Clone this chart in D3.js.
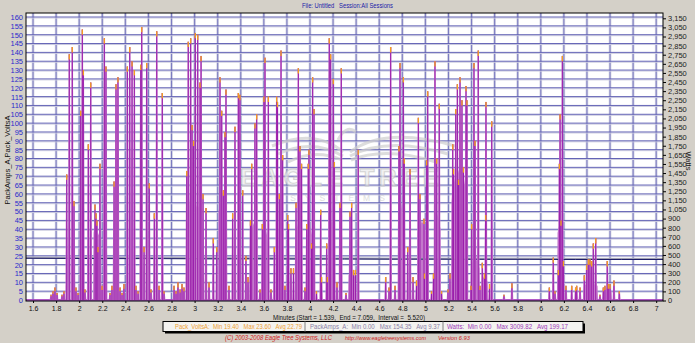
<!DOCTYPE html>
<html><head><meta charset="utf-8">
<script src="https://cdn.jsdelivr.net/npm/d3@7/dist/d3.min.js"></script>
<style>
html,body{margin:0;padding:0;background:#d4d0c8;overflow:hidden;}
svg{display:block;font-family:"Liberation Sans",Arial,sans-serif;}
</style></head><body>
<svg id="chart" width="695" height="343"></svg>
<script>
// ---- recorded data ----
// current spikes: time in minutes, peak PackAmps_A
const spikeMinutes = [
  1.756,1.773,1.790,1.808,1.851,1.868,1.892,1.914,1.940,1.955,1.972,1.990,2.013,2.027,2.036,2.050,
  2.079,2.100,2.137,2.146,2.154,2.163,2.180,2.198,2.218,2.232,2.267,2.284,2.302,2.319,2.336,2.354,
  2.371,2.388,2.417,2.438,2.458,2.478,2.492,2.510,2.533,2.542,2.562,2.585,2.607,2.622,2.651,2.672,
  2.692,2.720,2.735,2.822,2.839,2.856,2.874,2.891,2.908,2.932,2.945,2.966,2.978,2.991,3.006,3.027,
  3.047,3.056,3.073,3.099,3.125,3.162,3.192,3.220,3.235,3.249,3.263,3.272,3.298,3.330,3.350,3.379,
  3.393,3.417,3.445,3.463,3.484,3.495,3.523,3.538,3.567,3.587,3.601,3.610,3.639,3.662,3.691,3.711,
  3.718,3.734,3.749,3.763,3.783,3.807,3.814,3.835,3.857,3.879,3.899,3.913,3.927,3.957,3.972,3.985,
  3.991,4.013,4.023,4.035,4.056,4.093,4.100,4.145,4.150,4.167,4.179,4.202,4.211,4.234,4.260,4.271,
  4.312,4.347,4.361,4.377,4.394,4.418,4.656,4.685,4.699,4.737,4.771,4.780,4.809,4.817,4.847,4.867,
  4.893,4.923,4.939,4.953,4.988,4.992,5.011,5.020,5.053,5.070,5.083,5.098,5.120,5.140,5.196,5.213,
  5.237,5.244,5.263,5.277,5.287,5.300,5.317,5.330,5.352,5.360,5.395,5.401,5.421,5.430,5.458,5.473,
  5.493,5.512,5.523,5.525,5.556,5.575,5.681,5.750,6.074,6.108,6.123,6.152,6.161,6.167,6.175,6.187,
  6.196,6.218,6.268,6.302,6.311,6.340,6.377,6.398,6.412,6.426,6.441,6.455,6.476,6.513,6.542,6.556,
  6.576,6.585,6.600,6.634,6.680
];
const spikeAmps = [
  3,5,7,4,3,5,71,139,143,56,7,4,107,153,130,6,
  88,123,54,49,45,30,77,8,148,132,4,8,67,122,126,7,
  4,9,132,143,135,130,8,5,133,154.35,30,134,66,6,49,152,
  8,117,5,8,5,10,6,9,7,73,146,148,99,90,151,150,
  123,138,60,52,10,35,30,126,107,62,95,119,8,49,98,117,
  116,62,25,13,45,77,100,105,6,43,115,137,115,6,30,115,
  112,60,141,82,8,48,43,18,18,55,131,87,77,7,43,77,
  85,32,126,108,5,51,13,32,13,148,139,125,78,10,55,131,
  4,50,55,17,17,85,13,7,143,8,87,134,126,80,30,74,
  13,11,103,60,46,15,79,118,5,15,135,80,111,5,6,15,
  88,74,108,122,68,126,113,75,121,113,8,43,134,90,141,8,
  21,15,48,112,9,101,3,9.5,7,24,5,17,77,105,45,138,
  22,8,8,7,8,7,14,20,23,23,22,32,35,3,7,8,
  22,9,9,11,5
];
// sustained load between spikes
const loadMinutes = [
  2.120,2.124,2.140,2.160,2.185,2.189, 2.206,2.210,2.225,2.238,2.242,
  2.932,2.936,2.960,2.990,3.020,3.050,3.070,3.075, 3.203,3.207,3.240,3.275,3.281,
  3.480,3.484,3.520,3.545,3.549, 3.593,3.597,3.620,3.642,3.646,
  3.879,3.883,3.910,3.928,3.932, 3.965,3.969,4.000,4.040,4.044,
  4.156,4.160,4.190,4.213,4.217, 4.330,4.334,4.370,4.396,4.399,
  4.763,4.767,4.790,4.820,4.824, 4.927,4.931,4.970,5.000,5.018,5.022,
  5.074,5.078,5.100,5.132,5.136,
  5.222,5.226,5.245,5.265,5.285,5.305,5.325,5.345,5.365,5.369,
  5.395,5.399,5.430,5.470,5.474, 5.490,5.494,5.520,5.540,5.543,
  6.141,6.145,6.170,6.193,6.197, 6.374,6.378,6.420,6.460,6.492,6.496,
  6.539,6.543,6.580,6.613,6.617
];
const loadAmps = [
  0,38,44,36,40,0, 0,55,70,50,0,
  0,40,60,45,55,50,35,0, 0,50,60,45,0,
  0,38,45,35,0, 0,35,40,30,0,
  0,40,45,35,0, 0,35,42,30,0,
  0,40,45,35,0, 0,14,16,12,0,
  0,45,55,40,0, 0,38,45,40,35,0,
  0,45,50,40,0,
  0,55,72,62,74,66,60,70,52,0,
  0,20,25,18,0, 0,12,14,10,0,
  0,38,45,35,0, 0,8,11,9,8,0,
  0,5,7,5,0
];
// pack voltage
const voltMinutes = [1.539,1.9,2.3,2.7,3.1,3.5,3.9,4.3,4.7,5.1,5.5,5.9,6.3,6.7,7.059];
const voltValues  = [23.6,23.5,23.4,23.4,23.3,23.3,23.2,23.2,23.1,23.1,23.0,23.0,22.9,22.9,22.9];

// axes
const minuteTicks = [1.6,1.8,2,2.2,2.4,2.6,2.8,3,3.2,3.4,3.6,3.8,4,4.2,4.4,4.6,4.8,5,5.2,5.4,5.6,5.8,6,6.2,6.4,6.6,6.8,7];
const minuteLabels = ["1.6","1.8","2","2.2","2.4","2.6","2.8","3","3.2","3.4","3.6","3.8","4","4.2","4.4","4.6","4.8","5","5.2","5.4","5.6","5.8","6","6.2","6.4","6.6","6.8","7"];
const leftTicks = [0,5,10,15,20,25,30,35,40,45,50,55,60,65,70,75,80,85,90,95,100,105,110,115,120,125,130,135,140,145,150,155,160];
const wattLabels = ["0","100","200","300","400","500","600","700","800","900","1,050","1,150","1,250","1,350","1,450","1,550","1,650","1,750","1,850","1,950","2,050","2,150","2,250","2,350","2,450","2,550","2,650","2,750","2,850","2,950","3,050","3,150"];

// legend statistics
const legendNames = ["Pack_VoltsA","PackAmps_A","Watts"];
const legendMin = ["19.40","0.00","0.00"];
const legendMax = ["23.60","154.35","3009.82"];
const legendAvg = ["22.79","9.37","199.17"];
const legendColors = ["#eea033","#8a7fa6","#9c3cb8"];

const sessionStart = 1.539, sessionEnd = 7.059;

// ---- layout ----
const svg = d3.select("#chart");
const L = 26, R = 663, T = 13, B = 301;

const x = d3.scaleLinear().domain([sessionStart, sessionEnd]).range([L, R]);
const yA = d3.scaleLinear().domain([0, 160]).range([300, 17]);
const yW = d3.scaleLinear().domain([0, 3150]).range([300.5, 18.3]);

// fitted text helper (fixed width run of text)
function fitted(sel, x0, y0, w, size, color, str) {
  return sel.append("text").attr("x", x0).attr("y", y0)
    .attr("font-size", size).attr("fill", color).style("white-space","pre")
    .attr("textLength", w).attr("lengthAdjust","spacingAndGlyphs").text(str);
}

svg.append("rect").attr("width",695).attr("height",343).attr("fill","#d4d0c8");
svg.append("rect").attr("x",L).attr("y",T).attr("width",R-L).attr("height",B-T).attr("fill","#ffffff");

// title
fitted(svg, 302, 7.5, 91, 7, "#2020a8", "File: Untitled   Session:All Sessions");

// grid
const grid = svg.append("g");
minuteTicks.forEach(t => {
  grid.append("line").attr("x1",x(t)).attr("x2",x(t)).attr("y1",T).attr("y2",B)
    .attr("stroke","#cfcfe2").attr("stroke-width",2.6);
  grid.append("line").attr("x1",x(t)).attr("x2",x(t)).attr("y1",T).attr("y2",B)
    .attr("stroke","#7a7ac0").attr("stroke-width",1);
});
leftTicks.forEach(v => {
  grid.append("line").attr("x1",L).attr("x2",R).attr("y1",yA(v)+1).attr("y2",yA(v)+1)
    .attr("stroke","#cdcde0").attr("stroke-width",1);
  grid.append("line").attr("x1",L).attr("x2",R).attr("y1",yA(v)).attr("y2",yA(v))
    .attr("stroke","#6464b6").attr("stroke-width",1);
});

// watermark
const wm = svg.append("g").attr("opacity",0.7);
const wingPaths = [
  "M343,152 Q315,128 272,146","M343,156 Q312,138 278,154","M342,160 Q315,148 288,162",
  "M350,152 Q385,126 455,146","M350,156 Q388,136 448,154","M351,160 Q385,146 436,162",
  "M338,140 Q346,124 356,132"
];
wingPaths.forEach(p => wm.append("path").attr("d",p).attr("fill","none")
  .attr("stroke","#cfcfcf").attr("stroke-width",3));
wm.append("text").attr("x",342).attr("y",186).attr("text-anchor","middle")
  .attr("font-size",24).attr("font-weight","bold").attr("letter-spacing",5)
  .attr("fill","#ececec").attr("stroke","#c2c2c2").attr("stroke-width",1)
  .text("EAGLE TREE");
wm.append("text").attr("x",342).attr("y",201).attr("text-anchor","middle")
  .attr("font-size",8.5).attr("letter-spacing",9).attr("fill","#d0d0d0")
  .text("SYSTEMS");

// sustained load fill
const plot = svg.append("g");
const loadPts = loadMinutes.map((t,i)=>[t, loadAmps[i]]);
plot.append("path").datum(loadPts)
  .attr("d", d3.area().x(d=>x(d[0])).y0(yA(0)).y1(d=>yA(d[1])))
  .attr("fill","#c478cc");

// pack voltage
const voltPts = voltMinutes.map((t,i)=>[t, voltValues[i]]);
const vline = d3.line().x(d=>x(d[0])).y(d=>yA(d[1]));
plot.append("path").datum(voltPts).attr("d",vline).attr("fill","none")
  .attr("stroke","#a4a4b4").attr("stroke-width",2).attr("transform","translate(0,-0.5)");
plot.append("path").datum(voltPts).attr("d",vline).attr("fill","none")
  .attr("stroke","#1e1e6a").attr("stroke-width",1);

// zero baseline of current / power
plot.append("line").attr("x1",L).attr("x2",R).attr("y1",yA(0)).attr("y2",yA(0))
  .attr("stroke","#b03cc0").attr("stroke-width",1.5);

// spikes
const spikes = spikeMinutes.map((t,i)=>({t, a: spikeAmps[i]}));
plot.selectAll("path.sp").data(spikes).enter().append("path").attr("class","sp")
  .attr("d", d => {
    const cx = x(d.t), y0 = yA(0), y1 = yA(d.a);
    return `M${cx-1.4},${y0}L${cx-0.7},${y1}L${cx+0.7},${y1}L${cx+1.4},${y0}Z`;
  })
  .attr("fill","#c47acc");
plot.selectAll("line.core").data(spikes).enter().append("line").attr("class","core")
  .attr("x1",d=>x(d.t)).attr("x2",d=>x(d.t))
  .attr("y1",yA(0)).attr("y2",d=>yA(d.a))
  .attr("stroke","#9a1caa").attr("stroke-width",1);
plot.selectAll("line.cap").data(spikes).enter().append("line").attr("class","cap")
  .attr("x1",d=>x(d.t)).attr("x2",d=>x(d.t))
  .attr("y1",d=>yA(d.a)).attr("y2",d=>yA(d.a - Math.min(3, d.a*0.3)))
  .attr("stroke","#f5a11c").attr("stroke-width",1.3);

// frame
svg.append("rect").attr("x",L).attr("y",T).attr("width",R-L).attr("height",B-T)
  .attr("fill","none").attr("stroke","#000").attr("stroke-width",1);

// left axis
const axL = svg.append("g").attr("transform",`translate(${L},0)`)
  .call(d3.axisLeft(yA).tickValues(leftTicks).tickSize(0).tickPadding(3));
axL.select(".domain").remove();
axL.selectAll("text").attr("font-size",7.5).attr("fill","#2a2acc").attr("font-family",null);

// right axis
const wattTicks = wattLabels.map((s,i)=> i*3150/(wattLabels.length-1));
const axR = svg.append("g").attr("transform",`translate(${R},0)`)
  .call(d3.axisRight(yW).tickValues(wattTicks).tickFormat((d,i)=>wattLabels[i]).tickSize(3).tickPadding(2));
axR.select(".domain").remove();
axR.selectAll("line").attr("stroke","#000");
axR.selectAll("text").attr("font-size",7.5).attr("fill","#222").attr("font-family",null);

// bottom axis
const axB = svg.append("g").attr("transform",`translate(0,${B})`)
  .call(d3.axisBottom(x).tickValues(minuteTicks).tickFormat((d,i)=>minuteLabels[i]).tickSize(2).tickPadding(3));
axB.select(".domain").remove();
axB.selectAll("text").attr("font-size",7).attr("fill","#111").attr("font-family",null);

// axis titles
svg.append("text").attr("transform","translate(10,160) rotate(-90)").attr("text-anchor","middle")
  .attr("font-size",7.5).attr("fill","#111").text("PackAmps_A,Pack_VoltsA");
svg.append("text").attr("transform","translate(686,161) rotate(90)").attr("text-anchor","middle")
  .attr("font-size",7.5).attr("fill","#111").text("Watts");
fitted(svg, 273, 320, 152, 6.3, "#111",
  `Minutes (Start = ${sessionStart.toFixed(3)},  End = ${sessionEnd.toFixed(3)},  Interval =  ${(sessionEnd-sessionStart).toFixed(3)})`);

// legend box
const lgX = 163, lgY = 321.5, lgW = 420, lgH = 10;
const lgTextX = [175, 310, 447], lgTextW = [127, 130, 121], lgSep = [305, 443];
svg.append("rect").attr("x",lgX+2).attr("y",lgY+2).attr("width",lgW).attr("height",lgH).attr("fill","#000");
svg.append("rect").attr("x",lgX).attr("y",lgY).attr("width",lgW).attr("height",lgH)
  .attr("fill","#f4f3f0").attr("stroke","#000").attr("stroke-width",1);
lgSep.forEach(sx => svg.append("line").attr("x1",sx).attr("x2",sx).attr("y1",lgY).attr("y2",lgY+lgH)
  .attr("stroke","#808080"));
legendNames.forEach((n,i) => {
  fitted(svg, lgTextX[i], lgY+7.8, lgTextW[i], 6.5, legendColors[i],
    `${n}:  Min ${legendMin[i]}   Max ${legendMax[i]}   Avg ${legendAvg[i]}`);
});

// footer
const footG = svg.append("g").attr("font-style","italic");
fitted(footG, 225, 340, 107, 6.5, "#d01818", "(C) 2003-2008 Eagle Tree Systems, LLC");
fitted(footG, 345, 340, 81, 5.5, "#d01818", "http://www.eagletreesystems.com");
fitted(footG, 438, 340, 32, 6.2, "#d01818", "Version 6.93");
</script>
</body></html>
